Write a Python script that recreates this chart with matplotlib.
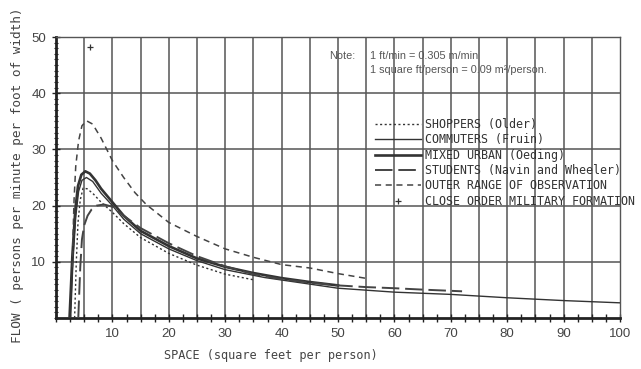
import matplotlib.pyplot as plt
import numpy as np

# values
shoppers_x = [3.3, 3.6, 3.9, 4.3, 4.8, 5.5, 6.5, 8, 10, 12, 15, 20, 25, 30, 35]
shoppers_y = [0, 10, 17, 21, 23.1, 23.0, 22.2, 20.6, 18.8, 16.8, 14.3, 11.5, 9.4, 7.8, 6.8]

commuters_x = [2.6, 3.0, 3.5, 4.0, 4.6, 5.4, 6.5, 8, 10, 12, 15, 20, 25, 30, 37, 50, 60, 70, 80, 90, 100]
commuters_y = [0, 10, 18, 22.5, 24.5, 25.0, 24.3, 22.2, 20.0, 17.6, 15.0, 12.3, 10.2, 8.6, 7.2, 5.3, 4.6, 4.2, 3.6, 3.1, 2.7]

mixed_x = [2.4, 2.9, 3.4, 3.9, 4.5, 5.2, 6.0, 7, 8, 10, 12, 15, 20, 25, 30, 35, 40, 45, 50]
mixed_y = [0, 11, 19, 23.5, 25.5, 26.1, 25.7, 24.5, 23.0, 20.6, 18.2, 15.5, 12.8, 10.6, 9.1, 8.0, 7.1, 6.4, 5.8]

students_x = [3.95, 4.3, 4.6, 5.0, 5.6, 6.3, 7.2, 8.5, 10, 12, 15, 20, 25, 30, 35, 40, 45, 50, 55, 60, 65, 72]
students_y = [0, 9, 14, 16.5, 18.2, 19.3, 20.0, 20.2, 19.8, 18.2, 16.0, 13.3, 11.0, 9.2, 7.8, 6.9, 6.3, 5.8, 5.5, 5.3, 5.05, 4.75]

outer_x = [2.9, 3.0, 3.2, 3.5, 4.0, 4.6, 5.4, 6.5, 8, 10, 12, 14, 16, 20, 25, 30, 35, 40, 45, 50, 55]
outer_y = [9, 14, 21, 27, 31.5, 34.2, 35.1, 34.5, 32, 28, 25, 22.3, 20.2, 17, 14.5, 12.3, 10.8, 9.5, 8.9, 7.9, 7.05]

military_x = [6.0]
military_y = [48.2]

labels = [
    "SHOPPERS (Older)",
    "COMMUTERS (Fruin)",
    "MIXED URBAN (Oeding)",
    "STUDENTS (Navin and Wheeler)",
    "OUTER RANGE OF OBSERVATION",
    "CLOSE ORDER MILITARY FORMATION",
]

ink = "#333333"
grid_c = "#555555"
mono = "DejaVu Sans Mono"

fig = plt.figure(figsize=(6.41, 3.69), dpi=100)
ax = fig.add_axes([56 / 641, 1 - 318 / 369, 564 / 641, 281 / 369])

ax.set_xlim(0, 100)
ax.set_ylim(0, 50)

# grid: verticals every 5, horizontals every 10
for gx in range(5, 100, 5):
    ax.axvline(gx, color=grid_c, lw=1.1, zorder=1)
for gy in range(10, 50, 10):
    ax.axhline(gy, color=grid_c, lw=1.1, zorder=1)

ax.plot(shoppers_x, shoppers_y, color=ink, lw=1.0, ls=(0, (1.5, 1.8)), label=labels[0], zorder=3)
ax.plot(commuters_x, commuters_y, color=ink, lw=1.0, label=labels[1], zorder=3)
ax.plot(mixed_x, mixed_y, color=ink, lw=1.9, label=labels[2], zorder=3)
ax.plot(students_x, students_y, color="#444444", lw=1.4, ls=(0, (9, 3)), label=labels[3], zorder=3)
ax.plot(outer_x, outer_y, color="#444444", lw=1.1, ls=(0, (4, 3)), label=labels[4], zorder=3)
ax.plot(military_x, military_y, ls="none", marker="+", ms=5, mew=0.9, color=ink, label=labels[5], zorder=3)

for side in ["top", "right"]:
    ax.spines[side].set_linewidth(1.0)
    ax.spines[side].set_color(grid_c)
for side in ["left", "bottom"]:
    ax.spines[side].set_linewidth(2.0)
    ax.spines[side].set_color("#222222")

ax.set_xticks(range(10, 101, 10))
ax.set_xticks(np.arange(0, 100.1, 2.5), minor=True)
ax.set_yticks(range(10, 51, 10))
ax.set_yticks(range(0, 51), minor=True)
ax.tick_params(axis="x", which="both", direction="inout", length=6, width=1.0, color="#222222",
               labelsize=9.5, labelcolor="#444444", pad=4)
ax.tick_params(axis="y", which="major", direction="inout", length=6, width=1.0, color="#222222",
               labelsize=9.5, labelcolor="#444444", pad=4)
ax.tick_params(axis="y", which="minor", direction="inout", length=3, width=0.8, color="#222222")
for lab in ax.get_xticklabels() + ax.get_yticklabels():
    lab.set_family("Liberation Sans")

fig.text(271 / 641, 1 - 355 / 369, "SPACE (square feet per person)", family=mono,
         fontsize=8.6, color="#444444", ha="center", va="center")
fig.text(18 / 641, 1 - 175 / 369, "FLOW ( persons per minute per foot of width)", family=mono,
         fontsize=9.2, color="#444444", rotation=90, ha="center", va="center")

# conversion note
fig.text(329 / 641, 1 - 56 / 369, "Note:", family="Liberation Sans", fontsize=7.8, color="#555555", va="center")
fig.text(370 / 641, 1 - 56 / 369, "1 ft/min = 0.305 m/min", family="Liberation Sans", fontsize=7.8,
         color="#555555", va="center")
fig.text(370 / 641, 1 - 70 / 369, "1 square ft/person = 0.09 m\u00b2/person.", family="Liberation Sans",
         fontsize=7.8, color="#555555", va="center")

leg = fig.legend(loc="upper left", bbox_to_anchor=(375 / 641, 1 - 118 / 369), frameon=False,
                 prop={"family": mono, "size": 8.4}, handlelength=3.9, handletextpad=0.4,
                 labelspacing=0.2, borderpad=0, borderaxespad=0)
for t in leg.get_texts():
    t.set_color("#333333")

fig.savefig("out.png", dpi=100)
plt.close()
